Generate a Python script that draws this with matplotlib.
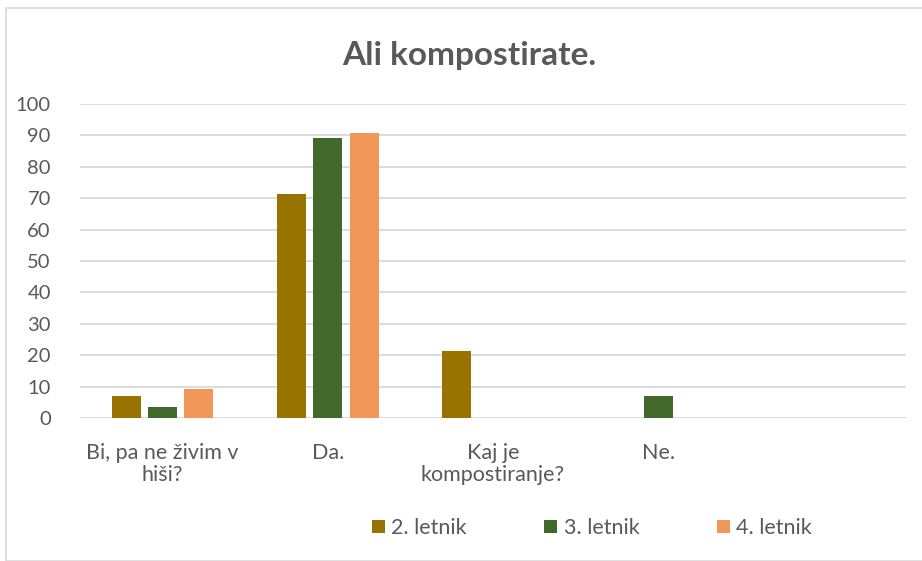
import matplotlib.pyplot as plt
import numpy as np
from matplotlib.patches import Rectangle

plt.rcParams['font.family'] = ['Lato', 'DejaVu Sans']

categories = ['Bi, pa ne živim v\nhiši?', 'Da.', 'Kaj je\nkompostiranje?', 'Ne.', '']
series_names = ['2. letnik', '3. letnik', '4. letnik']
letnik_2 = [7.1, 71.4, 21.4, 0, 0]
letnik_3 = [3.6, 89.3, 0, 7.1, 0]
letnik_4 = [9.1, 90.9, 0, 0, 0]
y_ticks = [0, 10, 20, 30, 40, 50, 60, 70, 80, 90, 100]

colors = ['#997300', '#43682B', '#F1975A']
text_color = '#595959'
grid_color = '#D9D9D9'

W, H = 922, 561
fig = plt.figure(figsize=(W / 100, H / 100), dpi=100)

# outer chart border
fig.patches.append(Rectangle((6 / W, 0), 1.0, 1 - 8 / H, transform=fig.transFigure,
                             fill=False, edgecolor=grid_color, linewidth=1.2))

ax = fig.add_axes([80 / W, (H - 418) / H, (906 - 80) / W, (418 - 104) / H])

x = np.arange(len(categories))
width = 0.176
step = 0.22
for i, (vals, name) in enumerate(zip([letnik_2, letnik_3, letnik_4], series_names)):
    ax.bar(x + (i - 1) * step, vals, width, color=colors[i], label=name, zorder=3)

ax.set_xlim(-0.5, len(categories) - 0.5)
ax.set_ylim(0, 100)
ax.set_yticks(y_ticks)
ax.yaxis.grid(True, color=grid_color, linewidth=1.3, zorder=0)
for s in ax.spines.values():
    s.set_visible(False)
ax.tick_params(axis='both', length=0, colors=text_color)
ax.tick_params(axis='y', pad=21, labelsize=14.5)
ax.tick_params(axis='x', pad=18, labelsize=15.5)
ax.set_xticks(x)
ax.set_xticklabels(categories, linespacing=1.15)

fig.text(469 / W, 1 - 55 / H, 'Ali kompostirate.', ha='center', va='center',
         fontsize=24, fontweight='bold', color=text_color)

leg = fig.legend(loc='center', bbox_to_anchor=(592 / W, 1 - 528 / H), ncol=3,
                 frameon=False, fontsize=15.5, handlelength=0.6, handleheight=0.6,
                 handletextpad=0.3, columnspacing=3.6)
for t in leg.get_texts():
    t.set_color(text_color)

fig.savefig('out.png', dpi=100)
